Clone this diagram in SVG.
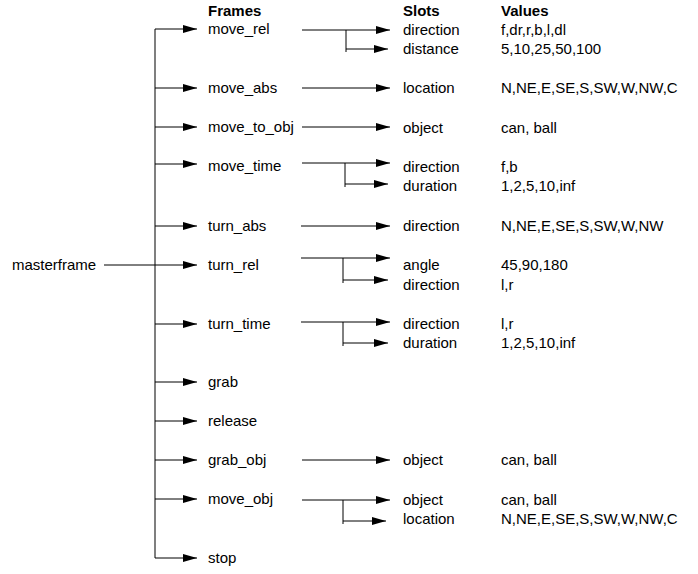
<svg xmlns="http://www.w3.org/2000/svg" width="698" height="574" viewBox="0 0 698 574">
<style>
text{font-family:"Liberation Sans",Arial,sans-serif;font-size:15px;fill:#000}
.h{font-weight:bold}
.l{stroke:#000;stroke-width:1;fill:none}
.t{stroke:#555;stroke-width:1.5;fill:none}
</style>
<defs>
<marker id="a" markerUnits="userSpaceOnUse" markerWidth="14" markerHeight="8" refX="14" refY="4" orient="auto">
<path d="M0,0 L14,4 L0,8 z" fill="#000"/>
</marker>
</defs>
<rect width="698" height="574" fill="#fff"/>
<g id="headers">
<text class="h" x="208" y="16">Frames</text>
<text class="h" x="403" y="16">Slots</text>
<text class="h" x="501" y="16">Values</text>
</g>
<g id="connectors">
<path class="t" d="M155,29 V558"/>
<g class="l" marker-end="url(#a)">
<path d="M155,29 H197"/>
<path d="M155,88 H197"/>
<path d="M155,127 H197"/>
<path d="M155,164 H197"/>
<path d="M155,226 H197"/>
<path d="M104,265 H197"/>
<path d="M155,324 H197"/>
<path d="M155,382 H197"/>
<path d="M155,421 H197"/>
<path d="M155,460 H197"/>
<path d="M155,499 H197"/>
<path d="M155,558 H197"/>
<path d="M302,30 H390"/>
<path d="M346,30 V52 M346,49 H388"/>
<path d="M302,88 H390"/>
<path d="M302,127 H390"/>
<path d="M302,163 H390"/>
<path d="M345,163 V187 M345,184 H388"/>
<path d="M301,226 H390"/>
<path d="M301,258 H390"/>
<path d="M343,258 V283 M343,280 H388"/>
<path d="M301,322 H390"/>
<path d="M343,322 V346 M343,343 H388"/>
<path d="M302,460 H390"/>
<path d="M302,500 H390"/>
<path d="M343,500 V524 M343,521 H386"/>
</g>
</g>
<g id="masterframe"><text x="12" y="270">masterframe</text></g>
<g id="move_rel"><text x="208" y="34">move_rel</text>
<text x="403" y="35">direction</text><text x="501" y="35">f,dr,r,b,l,dl</text>
<text x="403" y="54">distance</text><text x="501" y="54">5,10,25,50,100</text></g>
<g id="move_abs"><text x="208" y="93">move_abs</text>
<text x="403" y="93">location</text><text x="501" y="93">N,NE,E,SE,S,SW,W,NW,C</text></g>
<g id="move_to_obj"><text x="208" y="132">move_to_obj</text>
<text x="403" y="133">object</text><text x="501" y="133">can, ball</text></g>
<g id="move_time"><text x="208" y="171">move_time</text>
<text x="403" y="172">direction</text><text x="501" y="172">f,b</text>
<text x="403" y="191">duration</text><text x="501" y="191">1,2,5,10,inf</text></g>
<g id="turn_abs"><text x="208" y="231">turn_abs</text>
<text x="403" y="231">direction</text><text x="501" y="231">N,NE,E,SE,S,SW,W,NW</text></g>
<g id="turn_rel"><text x="208" y="270">turn_rel</text>
<text x="403" y="270">angle</text><text x="501" y="270">45,90,180</text>
<text x="403" y="290">direction</text><text x="501" y="290">l,r</text></g>
<g id="turn_time"><text x="208" y="329">turn_time</text>
<text x="403" y="329">direction</text><text x="501" y="329">l,r</text>
<text x="403" y="348">duration</text><text x="501" y="348">1,2,5,10,inf</text></g>
<g id="grab"><text x="208" y="387">grab</text></g>
<g id="release"><text x="208" y="426">release</text></g>
<g id="grab_obj"><text x="208" y="465">grab_obj</text>
<text x="403" y="465">object</text><text x="501" y="465">can, ball</text></g>
<g id="move_obj"><text x="208" y="504">move_obj</text>
<text x="403" y="505">object</text><text x="501" y="505">can, ball</text>
<text x="403" y="524">location</text><text x="501" y="524">N,NE,E,SE,S,SW,W,NW,C</text></g>
<g id="stop"><text x="208" y="563">stop</text></g>
</svg>
